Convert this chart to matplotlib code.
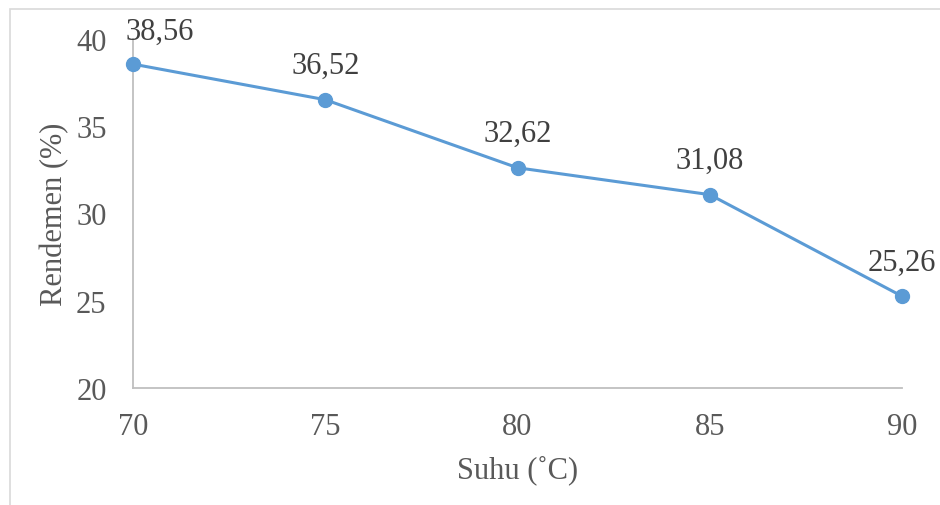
import matplotlib
matplotlib.use('Agg')
import matplotlib.pyplot as plt
from matplotlib.patches import Rectangle

# data
suhu = [70, 75, 80, 85, 90]
rendemen = [38.56, 36.52, 32.62, 31.08, 25.26]
y_ticks = [20, 25, 30, 35, 40]

plt.rcParams['font.family'] = ['Liberation Serif', 'DejaVu Serif']
abu = '#595959'
biru = '#5B9BD5'
fs = 22

fig = plt.figure(figsize=(9.4, 5.06), dpi=100)
ax = fig.add_axes([0.1415, 0.2312, 0.8181, 0.6898])

# bingkai tipis di sekitar grafik
fig.patches.append(Rectangle((10 / 940, -0.05), 1.0, 1 - 10 / 506 + 0.05,
                             transform=fig.transFigure, fill=False,
                             edgecolor='#d9d9d9', linewidth=1.2))

ax.plot(suhu, rendemen, color=biru, linewidth=2.2, marker='o', markersize=10,
        clip_on=False, zorder=3)

for i, (x, y) in enumerate(zip(suhu, rendemen)):
    # label pertama digeser ke kanan supaya tidak menabrak sumbu
    dx, dy = (19, 13) if i == 0 else (0, 14)
    ax.annotate(f'{y:.2f}'.replace('.', ','), (x, y), xytext=(dx, dy),
                textcoords='offset points', ha='center', va='bottom',
                fontsize=fs, color='#404040')

ax.set_xlim(70, 90)
ax.set_ylim(20, 40)
ax.set_xticks(suhu)
ax.set_yticks(y_ticks)
ax.tick_params(length=0, labelsize=fs, colors=abu)
ax.tick_params(axis='y', pad=19)
ax.tick_params(axis='x', pad=17)

for s in ['top', 'right']:
    ax.spines[s].set_visible(False)
for s in ['left', 'bottom']:
    ax.spines[s].set_color('#bfbfbf')
    ax.spines[s].set_linewidth(1.3)

ax.set_xlabel('Suhu (˚C)', fontsize=fs, color=abu, labelpad=10)
ax.set_ylabel('Rendemen (%)', fontsize=fs, color=abu, labelpad=5)

fig.savefig('out.png', dpi=100)
